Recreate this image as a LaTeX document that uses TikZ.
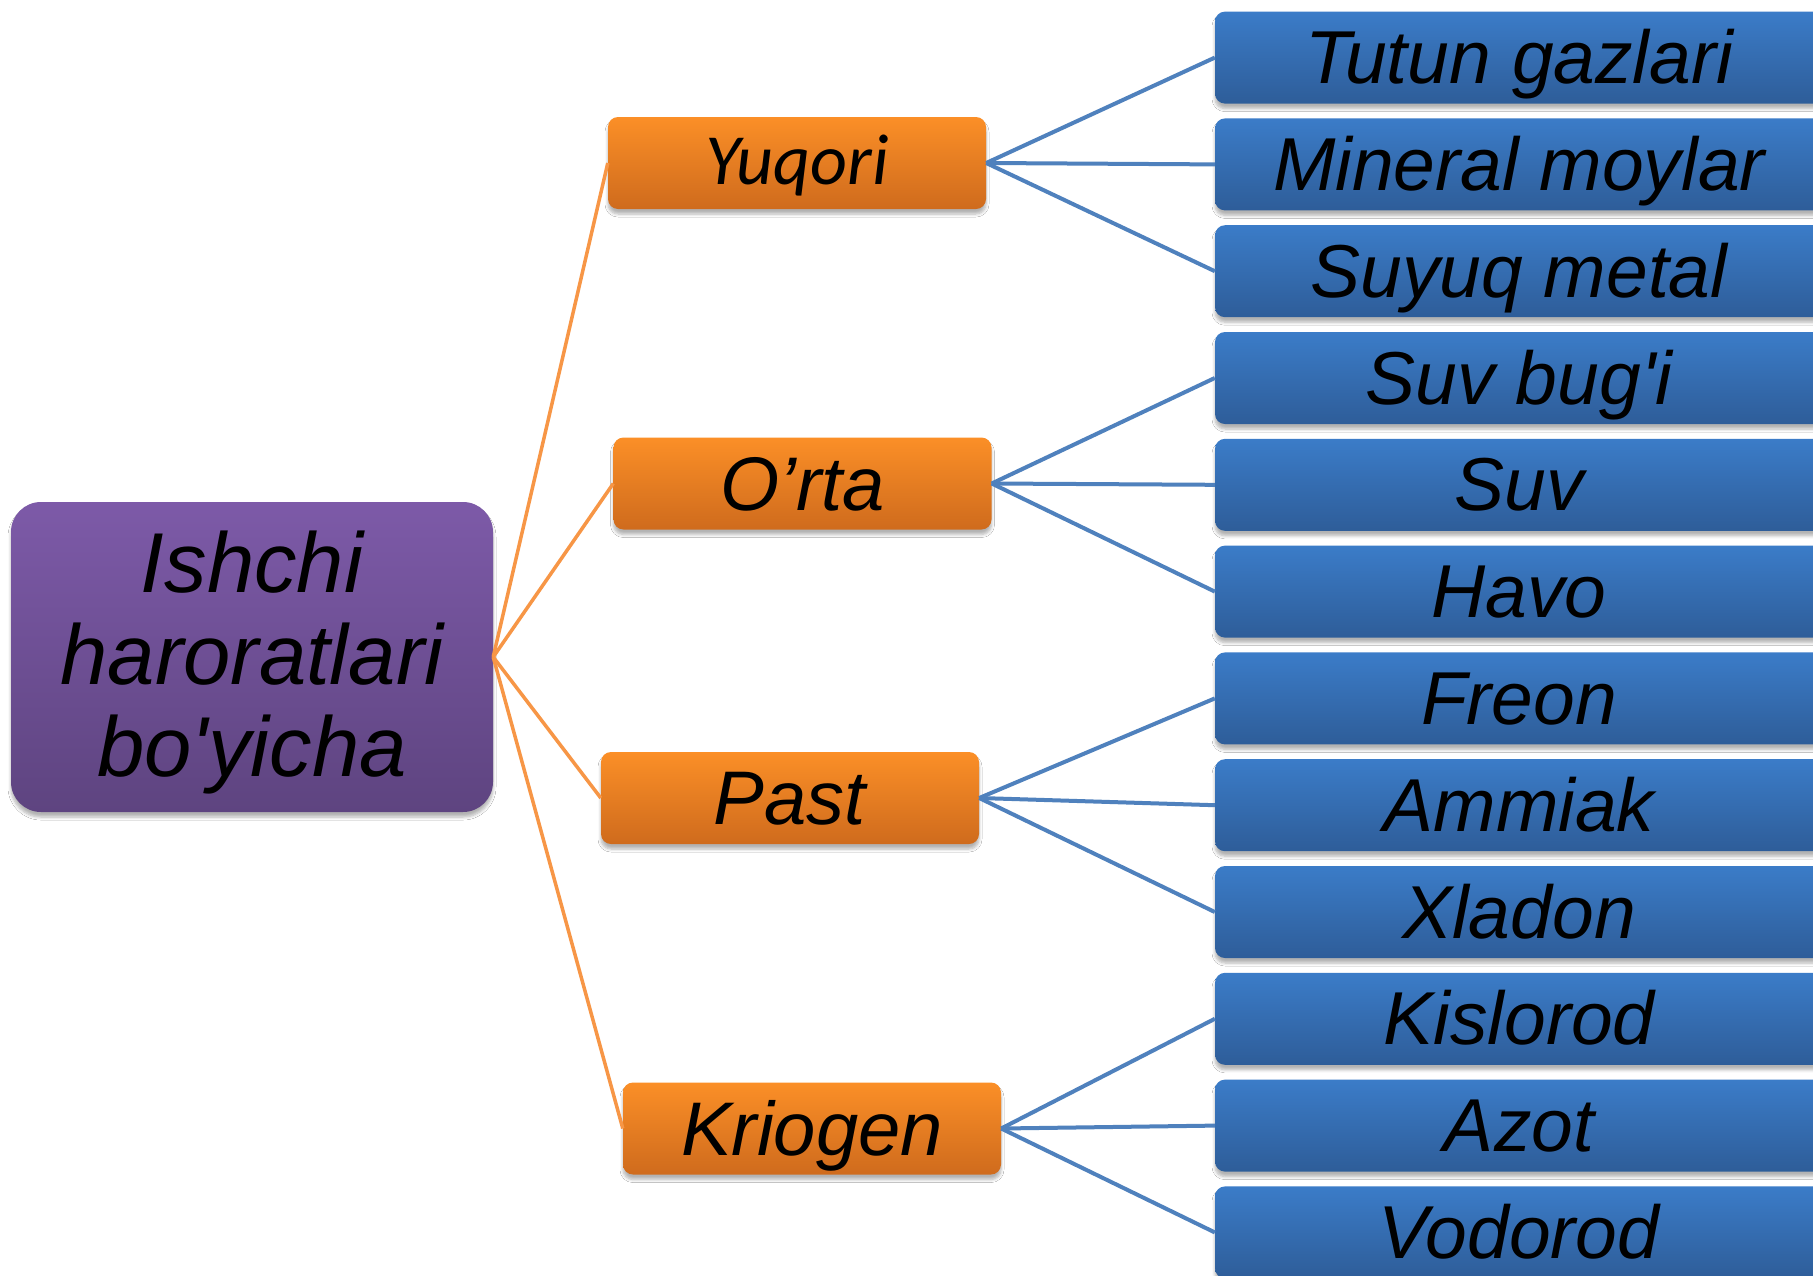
\documentclass[tikz,border=0pt]{standalone}
\usepackage{fontspec}
\newfontfamily\arialf{Liberation Sans}
\newfontfamily\carlitof{Carlito}
\usetikzlibrary{shadows.blur}

\definecolor{purpletop}{HTML}{7D5AA8}
\definecolor{purplebot}{HTML}{5E4480}
\definecolor{orangetop}{HTML}{FB8F27}
\definecolor{orangebot}{HTML}{CF6B1D}
\definecolor{bluetop}{HTML}{3B7CC8}
\definecolor{bluebot}{HTML}{2E5D99}
\definecolor{orangeline}{HTML}{F79646}
\definecolor{blueline}{HTML}{4F81BD}

\tikzset{
  box/.style={rounded corners=10pt, inner sep=0pt, text=black,
    blur shadow={shadow xshift=0pt, shadow yshift=-5pt,
                 shadow blur radius=3pt, shadow blur steps=6,
                 shadow opacity=30}},
  rootbox/.style={box, rounded corners=30pt,
    top color=purpletop, bottom color=purplebot,
    minimum width=482pt, minimum height=310pt, align=center,
    font=\arialf\itshape\fontsize{85}{92}\selectfont},
  catbox/.style={box, top color=orangetop, bottom color=orangebot,
    minimum width=378pt, minimum height=92pt,
    font=\arialf\itshape\fontsize{76}{84}\selectfont,
    text height=69pt, text depth=16pt},
  catboxc/.style={catbox, font=\carlitof\itshape\fontsize{72}{80}\selectfont,
    text height=57pt, text depth=14pt},
  itembox/.style={box, top color=bluetop, bottom color=bluebot,
    minimum width=608pt, minimum height=92pt,
    font=\arialf\itshape\fontsize{75}{84}\selectfont,
    text height=68pt, text depth=16pt},
  catlink/.style={draw=orangeline, line width=3.5pt},
  itemlink/.style={draw=blueline, line width=4pt},
}

\begin{document}
\begin{tikzpicture}[x=1pt, y=-1pt]
  \path[use as bounding box] (0,0) rectangle (1813,1275);
  \fill[white] (0,0) rectangle (1813,1275);
  \clip (0,0) rectangle (1813,1275);

  % root
  \node[rootbox] (root) at (252,657)
    {\rule{0pt}{72pt}Ishchi\\haroratlari\\bo'yicha};

  % categories
  \node[catboxc] (yuqori)  at (797,163)    {Yuqori};
  \node[catbox]  (orta)    at (802.5,483.5) {O’rta};
  \node[catbox]  (past)    at (790,798)    {Past};
  \node[catbox]  (kriogen) at (812,1128.5) {Kriogen};

  % items
  \node[itembox] (i1)  at (1519,57.6)   {Tutun gazlari};
  \node[itembox] (i2)  at (1519,164.4)  {Mineral moylar};
  \node[itembox] (i3)  at (1519,271.2)  {Suyuq metal};
  \node[itembox] (i4)  at (1519,378.0)  {Suv bug'i};
  \node[itembox] (i5)  at (1519,484.8)  {Suv};
  \node[itembox] (i6)  at (1519,591.6)  {Havo};
  \node[itembox] (i7)  at (1519,698.4)  {Freon};
  \node[itembox] (i8)  at (1519,805.2)  {Ammiak};
  \node[itembox] (i9)  at (1519,912.0)  {Xladon};
  \node[itembox] (i10) at (1519,1018.8) {Kislorod};
  \node[itembox] (i11) at (1519,1125.6) {Azot};
  \node[itembox] (i12) at (1519,1232.4) {Vodorod};

  % root to categories
  \foreach \c in {yuqori,orta,past,kriogen}
    \draw[catlink] (root.east) -- (\c.west);

  % categories to items
  \foreach \c/\a/\b/\d in {yuqori/i1/i2/i3, orta/i4/i5/i6, past/i7/i8/i9, kriogen/i10/i11/i12}{
    \draw[itemlink] (\c.east) -- (\a.west);
    \draw[itemlink] (\c.east) -- (\b.west);
    \draw[itemlink] (\c.east) -- (\d.west);
  }
\end{tikzpicture}
\end{document}
